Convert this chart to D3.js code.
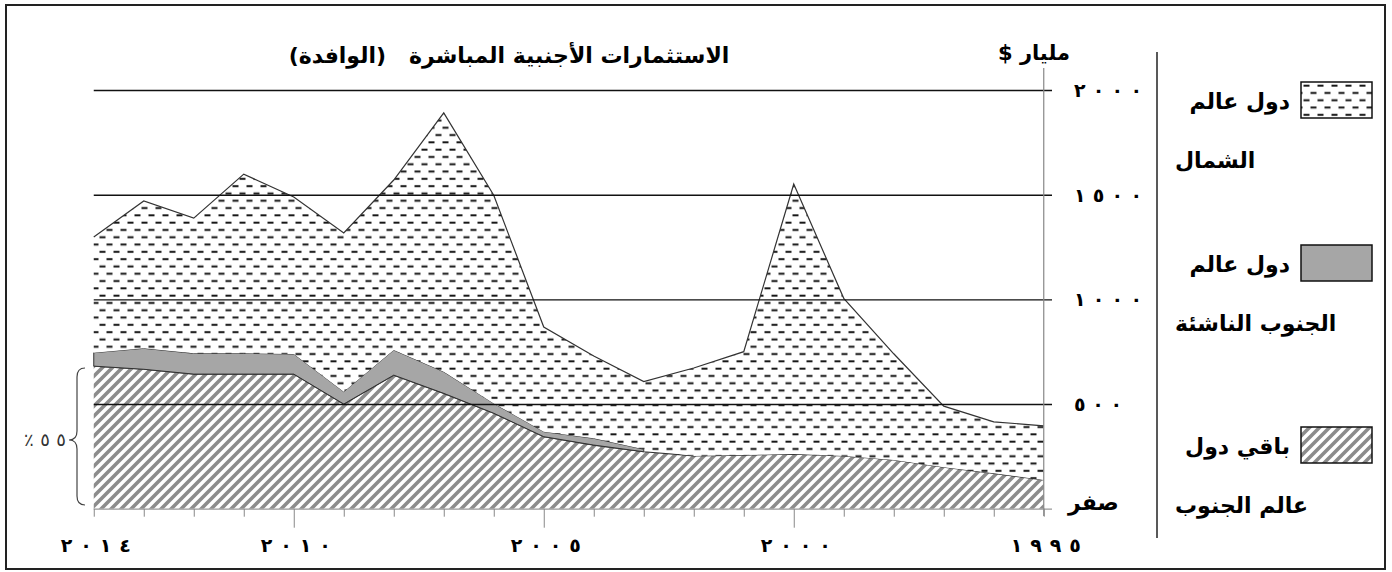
<!DOCTYPE html>
<html lang="ar">
<head>
<meta charset="utf-8">
<script src="https://cdn.jsdelivr.net/npm/d3@7"></script>
<style>
  body { margin: 0; background: #fff; }
  svg text { font-family: "DejaVu Sans", sans-serif; }
</style>
</head>
<body>
<div id="chart"></div>
<script>
// years run right-to-left on the chart (2014 on the left)
const years = [2014, 2013, 2012, 2011, 2010, 2009, 2008, 2007, 2006, 2005,
               2004, 2003, 2002, 2001, 2000, 1999, 1998, 1997, 1996, 1995];

// billion $
const southRest = [681, 666, 643, 643, 643, 500, 638, 551, 456, 344,
                   304, 272, 252, 256, 261, 252, 233, 198, 169, 137];
const southEmerging = [64, 100, 99, 99, 96, 59, 120, 103, 47, 24,
                       32, 12, null, null, null, null, null, null, null, null];
const north = [553, 704, 646, 856, 750, 758, 812, 1237, 994, 500,
               393, 323, 420, 494, 1290, 753, 507, 292, 246, 259];

const xTickYears = [2014, 2010, 2005, 2000, 1995];
const xTickLabels = ["٢٠١٤", "٢٠١٠", "٢٠٠٥", "٢٠٠٠", "١٩٩٥"];
const yTickValues = [0, 500, 1000, 1500, 2000];
const yTickLabels = ["صفر", "٥٠٠", "١٠٠٠", "١٥٠٠", "٢٠٠٠"];

const titleText = "الاستثمارات الأجنبية المباشرة   (الوافدة)";
const unitText = "مليار $";
const bracketLabel = "٪٥٥";
const legendKeys = ["north", "emerging", "rest"];
const legendLines = [["دول عالم", "الشمال"], ["دول عالم", "الجنوب الناشئة"], ["باقي دول", "عالم الجنوب"]];

const width = 1392;
const height = 572;

const svg = d3.select('#chart')
    .append('svg')
    .attr('width', width)
    .attr('height', height);

// patterns
const defs = svg.append('defs');
const dash = defs.append('pattern')
    .attr('id', 'dash')
    .attr('patternUnits', 'userSpaceOnUse')
    .attr('width', 14)
    .attr('height', 14.6);
dash.append('rect').attr('width', 14).attr('height', 14.6).attr('fill', '#fff');
dash.append('path')
    .attr('d', 'M1.5,3.6 H7.5 M8.5,10.9 H14 M0,10.9 H0.5')
    .attr('stroke', '#111')
    .attr('stroke-width', 1.9);

const hatch = defs.append('pattern')
    .attr('id', 'hatch')
    .attr('patternUnits', 'userSpaceOnUse')
    .attr('width', 10)
    .attr('height', 10);
hatch.append('rect').attr('width', 10).attr('height', 10).attr('fill', '#fff');
hatch.append('path')
    .attr('d', 'M-2.5,2.5 L2.5,-2.5 M0,10 L10,0 M7.5,12.5 L12.5,7.5')
    .attr('stroke', '#8c8c8c')
    .attr('stroke-width', 3.6);

const fills = { north: 'url(#dash)', emerging: '#a6a6a6', rest: 'url(#hatch)' };

// outer frame
svg.append('rect')
    .attr('x', 6).attr('y', 5)
    .attr('width', 1379).attr('height', 564)
    .attr('fill', 'none')
    .attr('stroke', '#222')
    .attr('stroke-width', 2);

const xScale = d3.scaleLinear()
    .domain([2014, 1995])
    .range([93.75, 1043.75]);

const yScale = d3.scaleLinear()
    .domain([0, 2000])
    .range([508.7, 90]);

const data = years.map((year, i) => ({
    year: year,
    rest: southRest[i],
    emerging: southEmerging[i],
    north: north[i]
}));

const series = d3.stack()
    .keys(["rest", "emerging", "north"])
    .value((d, key) => d[key] ?? 0)(data);

const area = d3.area()
    .x(d => xScale(d.data.year))
    .y0(d => yScale(d[0]))
    .y1(d => yScale(d[1]));

const line = d3.line()
    .x(d => xScale(d.data.year))
    .y(d => yScale(d[1]));

series.forEach(s => {
    const defined = s.key === 'emerging' ? (d => d.data.emerging != null) : (() => true);
    svg.append('path')
        .datum(s)
        .attr('d', area.defined(defined))
        .attr('fill', fills[s.key])
        .attr('stroke', s.key === 'emerging' ? '#333' : 'none')
        .attr('stroke-width', 1);
    if (s.key !== 'emerging') {
        svg.append('path')
            .datum(s)
            .attr('d', line)
            .attr('fill', 'none')
            .attr('stroke', '#333')
            .attr('stroke-width', 1.2);
    }
});
area.defined(() => true);

// gridlines drawn over the areas
const grid = svg.append('g')
    .attr('transform', 'translate(1052, 0)')
    .call(d3.axisRight(yScale)
        .tickValues(yTickValues)
        .tickSize(-(1052 - 93.75))
        .tickFormat(''));
grid.select('.domain').remove();
grid.selectAll('.tick line')
    .attr('stroke', d => d === 0 ? '#999' : '#111')
    .attr('stroke-width', d => d === 0 ? 1.2 : 1.4);

// y axis line on the right
svg.append('line')
    .attr('x1', 1043.75).attr('x2', 1043.75)
    .attr('y1', 68).attr('y2', 516)
    .attr('stroke', '#888')
    .attr('stroke-width', 1.2);

// digits are spread out wide in the original, textLength does that
const yLabels = svg.append('g')
    .selectAll('text')
    .data(yTickValues)
    .join('text')
    .attr('x', d => d === 0 ? 1068 : 1074)
    .attr('y', d => yScale(d) + (d === 0 ? 1 : 7))
    .attr('text-anchor', 'start')
    .attr('font-size', d => d === 0 ? 22 : 19)
    .attr('font-weight', 'bold')
    .text((d, i) => yTickLabels[i]);
yLabels.filter(d => d !== 0)
    .attr('textLength', d => d === 500 ? 48 : 68)
    .attr('lengthAdjust', 'spacing');

// x axis: a tick every year, longer ones at 2010, 2005, 2000
const xAxis = svg.append('g')
    .attr('transform', `translate(0, ${yScale(0)})`)
    .call(d3.axisBottom(xScale)
        .tickValues(years)
        .tickSize(8)
        .tickSizeOuter(0)
        .tickFormat(''));
xAxis.select('.domain').remove();
xAxis.selectAll('.tick line')
    .attr('stroke', '#888')
    .attr('y2', d => (d % 5 === 0 && d !== 1995) ? 19 : 8);

svg.append('g')
    .selectAll('text')
    .data(xTickYears)
    .join('text')
    .attr('x', d => xScale(d) + 2)
    .attr('y', 552)
    .attr('text-anchor', 'middle')
    .attr('font-size', 19)
    .attr('font-weight', 'bold')
    .attr('textLength', 70)
    .attr('lengthAdjust', 'spacing')
    .text((d, i) => xTickLabels[i]);

// titles
svg.append('text')
    .attr('x', 509)
    .attr('y', 63)
    .attr('text-anchor', 'middle')
    .attr('font-size', 22)
    .attr('font-weight', 'bold')
    .style('white-space', 'pre')
    .text(titleText);

svg.append('text')
    .attr('x', 1070)
    .attr('y', 60)
    .attr('direction', 'rtl')
    .attr('text-anchor', 'start')
    .attr('font-size', 21)
    .attr('font-weight', 'bold')
    .text(unitText);

// bracket for the 55% share
svg.append('path')
    .attr('d', 'M85,368 Q77,368 77,377 L77,431 Q77,440 69,440 Q77,440 77,449 L77,496 Q77,505 85,505')
    .attr('fill', 'none')
    .attr('stroke', '#444')
    .attr('stroke-width', 1.2);

svg.append('text')
    .attr('x', 66)
    .attr('y', 446)
    .attr('text-anchor', 'end')
    .attr('font-size', 18)
    .attr('textLength', 42)
    .attr('lengthAdjust', 'spacing')
    .attr('fill', '#333')
    .text(bracketLabel);

// legend divider
svg.append('line')
    .attr('x1', 1157).attr('x2', 1157)
    .attr('y1', 52).attr('y2', 538)
    .attr('stroke', '#222')
    .attr('stroke-width', 1.5);

const legendTop = [82, 245, 427];
const legend = svg.append('g')
    .selectAll('g')
    .data(legendKeys)
    .join('g')
    .attr('transform', (d, i) => `translate(0, ${legendTop[i]})`);

legend.append('rect')
    .attr('x', 1301)
    .attr('width', 71)
    .attr('height', 36)
    .attr('fill', d => fills[d])
    .attr('stroke', '#111')
    .attr('stroke-width', 1.5);

legend.append('text')
    .attr('x', 1290)
    .attr('y', 27)
    .attr('text-anchor', 'end')
    .attr('font-size', 22)
    .attr('font-weight', 'bold')
    .text((d, i) => legendLines[i][0]);

legend.append('text')
    .attr('x', 1175)
    .attr('y', 86)
    .attr('text-anchor', 'start')
    .attr('font-size', 22)
    .attr('font-weight', 'bold')
    .text((d, i) => legendLines[i][1]);
</script>
</body>
</html>
